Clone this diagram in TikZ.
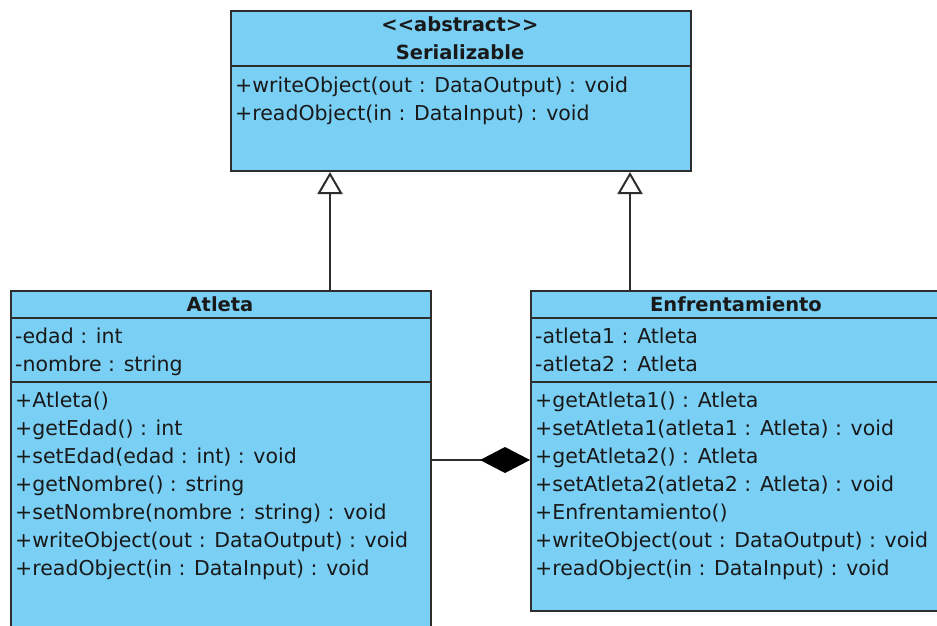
\documentclass[tikz,border=0pt]{standalone}
\usepackage{fontspec}
\setmainfont{DejaVu Sans}
\usetikzlibrary{arrows.meta}
\definecolor{clsfill}{RGB}{122,207,245}
\definecolor{clsline}{RGB}{45,45,45}
\definecolor{txt}{RGB}{25,25,25}
\tikzset{
  cls/.style={draw=clsline, fill=clsfill, line width=2pt, rectangle, inner sep=0pt, anchor=north west},
  sep/.style={draw=clsline, line width=2pt},
  mem/.style={anchor=base west, inner sep=0pt, text=txt, font=\fontsize{20.5}{28}\selectfont},
  hdr/.style={anchor=base, inner sep=0pt, text=txt, font=\fontsize{19.5}{28}\selectfont\bfseries},
  gen/.style={draw=clsline, line width=2pt, -{Triangle[open, length=22pt, width=25pt, line width=2pt]}},
  comp/.style={draw=clsline, line width=2pt, -{Diamond[length=50pt, width=26pt, fill=black, color=black]}}
}
\begin{document}
\begin{tikzpicture}[x=1pt,y=-1pt]
\useasboundingbox (0,0) rectangle (937,625);
\clip (0,0) rectangle (937,625);
% Serializable
\node[cls, minimum width=460pt, minimum height=160pt] (ser) at (230,10) {};
\draw[sep] (ser.west |- 0,66) -- (ser.east |- 0,66);
\node[hdr] (serst) at (460,31) {<{}<abstract>{}>};
\node[hdr] (sername) at (460,59) {Serializable};
\node[mem] (s1) at (235,92) {+writeObject(out : DataOutput) : void};
\node[mem] (s2) at (235,120) {+readObject(in : DataInput) : void};
% Atleta
\node[cls, minimum width=420pt, minimum height=360pt] (atl) at (10,290) {};
\draw[sep] (atl.west |- 0,318) -- (atl.east |- 0,318);
\draw[sep] (atl.west |- 0,382) -- (atl.east |- 0,382);
\node[hdr] (atlname) at (220,311) {Atleta};
\node[mem] (a1) at (15,343) {-edad : int};
\node[mem] (a2) at (15,371) {-nombre : string};
\node[mem] (a3) at (15,407) {+Atleta()};
\node[mem] (a4) at (15,435) {+getEdad() : int};
\node[mem] (a5) at (15,463) {+setEdad(edad : int) : void};
\node[mem] (a6) at (15,491) {+getNombre() : string};
\node[mem] (a7) at (15,519) {+setNombre(nombre : string) : void};
\node[mem] (a8) at (15,547) {+writeObject(out : DataOutput) : void};
\node[mem] (a9) at (15,575) {+readObject(in : DataInput) : void};
% Enfrentamiento
\node[cls, minimum width=412pt, minimum height=320pt] (enf) at (530,290) {};
\draw[sep] (enf.west |- 0,318) -- (enf.east |- 0,318);
\draw[sep] (enf.west |- 0,382) -- (enf.east |- 0,382);
\node[hdr] (enfname) at (736,311) {Enfrentamiento};
\node[mem] (e1) at (535,343) {-atleta1 : Atleta};
\node[mem] (e2) at (535,371) {-atleta2 : Atleta};
\node[mem] (e3) at (535,407) {+getAtleta1() : Atleta};
\node[mem] (e4) at (535,435) {+setAtleta1(atleta1 : Atleta) : void};
\node[mem] (e5) at (535,463) {+getAtleta2() : Atleta};
\node[mem] (e6) at (535,491) {+setAtleta2(atleta2 : Atleta) : void};
\node[mem] (e7) at (535,519) {+Enfrentamiento()};
\node[mem] (e8) at (535,547) {+writeObject(out : DataOutput) : void};
\node[mem] (e9) at (535,575) {+readObject(in : DataInput) : void};
% connectors
\coordinate (gl) at (330,0);
\coordinate (gr) at (630,0);
\coordinate (cy) at (0,460);
\draw[gen] (atl.north -| gl) -- (ser.south -| gl);
\draw[gen] (enf.north -| gr) -- (ser.south -| gr);
\draw[comp] (atl.east |- cy) -- (enf.west |- cy);
\end{tikzpicture}
\end{document}
